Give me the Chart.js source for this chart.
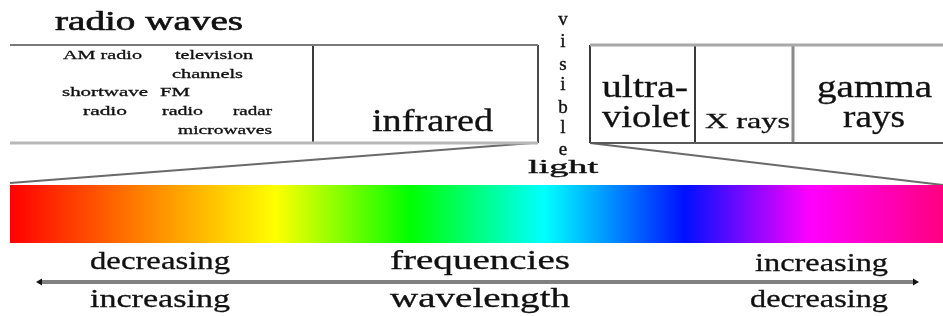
<!DOCTYPE html>
<html lang="en">
<head>
    <meta charset="UTF-8">
    <title>Electromagnetic Spectrum</title>
    <script src="https://cdn.jsdelivr.net/npm/chart.js"></script>
    <style>
        body {
            margin: 0;
            padding: 0;
            background: #fff;
        }
        canvas {
            display: block;
        }
    </style>
</head>
<body>
    <canvas id="spectrumChart" width="943" height="316"></canvas>

    <script>
        // Band names and boundaries along the spectrum (units run 0 - 943 left to right)
        const bands = ['radio waves', 'infrared', 'visible light', 'ultra-violet', 'X rays', 'gamma rays'];
        const radioSubBands = ['AM radio', 'television channels', 'shortwave radio', 'FM radio', 'radar', 'microwaves'];
        const lowBoxEdges = [10, 313, 538];        // radio | infrared | end
        const highBoxEdges = [590, 695, 793, 943]; // ultra-violet | X rays | gamma rays | end
        const boxRows = [45, 143];                 // top, bottom (vertical units 0 - 316, top down)
        const barRows = [185, 243];
        const barEnds = [10, 943];
        const spectrumStops = [10, 142, 275, 410, 545, 685, 810, 943];
        const arrowEnds = [40, 915];
        const arrowRow = 282;
        const axisWords = ['decreasing', 'frequencies', 'increasing', 'increasing', 'wavelength', 'decreasing'];

        const spectrumColors = ['#ff0000', '#ff8000', '#ffff00', '#00ff00', '#00ffff', '#0010ff', '#ff00ff', '#ff0080'];

        // text layout: [text, left, baseline, font size, width, stroke]
        const textLayout = [
            [bands[0], 55, 30, 27, 188, 0.6],
            [radioSubBands[0], 63, 59, 13, 79, 0.3],
            ['television', 175, 59, 13, 78, 0.3],
            ['channels', 172, 78, 13, 71, 0.3],
            ['shortwave', 62, 96, 13, 86, 0.3],
            ['FM', 160, 96, 13, 30, 0.3],
            ['radio', 83, 115, 13, 44, 0.3],
            ['radio', 162, 115, 13, 41, 0.3],
            [radioSubBands[4], 233, 115, 13, 39, 0.3],
            [radioSubBands[5], 178, 134, 13, 94, 0.3],
            [bands[1], 372, 131, 32, 121, 0.3],
            ['light', 528, 173, 19, 70, 0.4],
            ['ultra-', 602, 97, 31, 86, 0.3],
            ['violet', 602, 127, 31, 88, 0.3],
            [bands[4], 705, 128, 21, 85, 0.3],
            ['gamma', 817, 97, 31, 115, 0.3],
            ['rays', 843, 127, 31, 62, 0.3],
            [axisWords[0], 90, 269, 26, 140, 0.3],
            [axisWords[1], 390, 269, 27, 180, 0.3],
            [axisWords[2], 755, 271, 26, 133, 0.3],
            [axisWords[3], 90, 307, 26, 140, 0.3],
            [axisWords[4], 390, 307, 27, 180, 0.3],
            [axisWords[5], 750, 307, 26, 138, 0.3]
        ];
        const visibleLetters = ['v', 'i', 's', 'i', 'b', 'l', 'e'];
        const visibleBaselines = [25, 47, 70, 90, 113, 133, 155];

        const pt = (x, y) => ({ x: x, y: y });

        function seg(points, color, width) {
            return {
                data: points,
                borderColor: color,
                borderWidth: width,
                pointRadius: 0,
                fill: false
            };
        }

        const datasets = [
            // spectrum bar: fill between the two rows
            {
                data: [pt(barEnds[0], barRows[0]), pt(barEnds[1], barRows[0])],
                borderWidth: 0,
                pointRadius: 0,
                fill: false
            },
            {
                data: [pt(barEnds[0], barRows[1]), pt(barEnds[1], barRows[1])],
                borderWidth: 0,
                pointRadius: 0,
                fill: '-1',
                backgroundColor: function (context) {
                    const chart = context.chart;
                    if (!chart.chartArea) return '#f00';
                    const x = chart.scales.x;
                    const g = chart.ctx.createLinearGradient(x.getPixelForValue(barEnds[0]), 0, x.getPixelForValue(barEnds[1]), 0);
                    spectrumStops.forEach(function (s, i) {
                        g.addColorStop((s - barEnds[0]) / (barEnds[1] - barEnds[0]), spectrumColors[i]);
                    });
                    return g;
                }
            },
            // radio / infrared box
            seg([pt(lowBoxEdges[0], boxRows[0]), pt(lowBoxEdges[2], boxRows[0])], '#7a7a7a', 2),
            seg([pt(lowBoxEdges[0], boxRows[1]), pt(lowBoxEdges[2], boxRows[1])], '#b8b8b8', 3),
            seg([pt(lowBoxEdges[1], boxRows[0]), pt(lowBoxEdges[1], boxRows[1])], '#3a3a3a', 2),
            seg([pt(lowBoxEdges[2], boxRows[0]), pt(lowBoxEdges[2], boxRows[1])], '#4a4a4a', 2),
            // ultra-violet / X ray / gamma box
            seg([pt(highBoxEdges[0], boxRows[0]), pt(highBoxEdges[3], boxRows[0])], '#a8a8a8', 3),
            seg([pt(highBoxEdges[0], boxRows[1]), pt(highBoxEdges[3], boxRows[1])], '#5a5a5a', 2),
            seg([pt(highBoxEdges[0], boxRows[0]), pt(highBoxEdges[0], boxRows[1])], '#3a3a3a', 2),
            seg([pt(highBoxEdges[1], boxRows[0]), pt(highBoxEdges[1], boxRows[1])], '#3a3a3a', 2),
            seg([pt(highBoxEdges[2], boxRows[0]), pt(highBoxEdges[2], boxRows[1])], '#8a8a8a', 3),
            // funnel lines down to the spectrum bar
            seg([pt(barEnds[0], barRows[0] - 2), pt(lowBoxEdges[2] - 6, boxRows[1])], '#6a6a6a', 2),
            seg([pt(highBoxEdges[0], boxRows[1]), pt(barEnds[1], barRows[0])], '#6a6a6a', 2),
            // frequency / wavelength arrow
            {
                data: [pt(arrowEnds[0], arrowRow), pt(arrowEnds[1], arrowRow)],
                borderColor: '#808080',
                borderWidth: 4,
                pointRadius: 4,
                pointStyle: 'triangle',
                rotation: [-90, 90],
                pointBackgroundColor: '#111',
                pointBorderColor: '#111',
                pointBorderWidth: 0,
                fill: false
            }
        ];

        const labelPlugin = {
            id: 'labels',
            afterDatasetsDraw(chart) {
                const ctx = chart.ctx;
                const x = chart.scales.x;
                const y = chart.scales.y;
                ctx.save();
                ctx.fillStyle = '#111';
                ctx.strokeStyle = '#111';
                ctx.textBaseline = 'alphabetic';
                textLayout.forEach(function (t) {
                    ctx.font = t[3] + 'px "Liberation Serif", "DejaVu Serif", serif';
                    const left = x.getPixelForValue(t[1]);
                    const right = x.getPixelForValue(t[1] + t[4]);
                    const w = ctx.measureText(t[0]).width;
                    ctx.save();
                    ctx.translate(left, y.getPixelForValue(t[2]));
                    ctx.scale((right - left) / w, 1);
                    ctx.textAlign = 'left';
                    ctx.lineWidth = t[5];
                    ctx.fillText(t[0], 0, 0);
                    ctx.strokeText(t[0], 0, 0);
                    ctx.restore();
                });
                // "visible" written top to bottom
                ctx.font = '19px "Liberation Serif", "DejaVu Serif", serif';
                ctx.textAlign = 'center';
                ctx.lineWidth = 0.4;
                visibleLetters.forEach(function (ch, i) {
                    const px = x.getPixelForValue(563);
                    const py = y.getPixelForValue(visibleBaselines[i]);
                    ctx.fillText(ch, px, py);
                    ctx.strokeText(ch, px, py);
                });
                ctx.restore();
            }
        };

        const ctx = document.getElementById('spectrumChart').getContext('2d');
        const spectrumChart = new Chart(ctx, {
            type: 'line',
            data: { datasets: datasets },
            options: {
                responsive: false,
                animation: false,
                layout: { padding: 0, autoPadding: false },
                plugins: {
                    legend: { display: false },
                    tooltip: { enabled: false }
                },
                scales: {
                    x: { type: 'linear', min: 0, max: 943, display: false },
                    y: { type: 'linear', min: 0, max: 316, reverse: true, display: false }
                }
            },
            plugins: [labelPlugin]
        });
    </script>
</body>
</html>
